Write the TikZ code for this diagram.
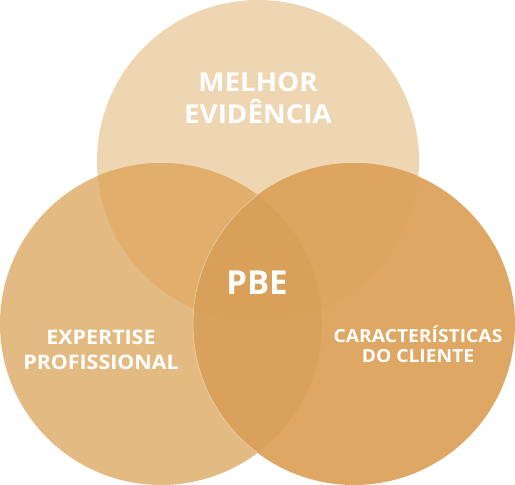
\documentclass[tikz,border=0pt]{standalone}
\usepackage{fontspec}
\setmainfont{Open Sans}
\newfontfamily\widefont{Open Sans}[FakeStretch=1.07]
\definecolor{topc}{HTML}{EFD6B2}
\definecolor{leftc}{HTML}{E4BA83}
\definecolor{rightc}{HTML}{DEA764}
\definecolor{tlc}{HTML}{E2AE6B}
\definecolor{trc}{HTML}{DDA560}
\definecolor{lrc}{HTML}{DAA15C}
\definecolor{allc}{HTML}{D8A058}
\tikzset{
  lbl/.style={text=white, align=center, inner sep=0pt, anchor=base},
}
\begin{document}
\begin{tikzpicture}[x=1pt,y=-1pt]
\useasboundingbox (0,0) rectangle (515,485);
\def\circT{(258,161) circle (161pt)}
\def\circL{(161,324) circle (161pt)}
\def\circR{(354,324) circle (161pt)}
\fill[topc] \circT;
\fill[leftc] \circL;
\fill[rightc] \circR;
\begin{scope}\clip \circT; \fill[tlc] \circL; \end{scope}
\begin{scope}\clip \circT; \fill[trc] \circR; \end{scope}
\begin{scope}\clip \circL; \fill[lrc] \circR; \end{scope}
\begin{scope}\clip \circT; \clip \circL; \fill[allc] \circR; \end{scope}
\begin{scope}\clip \circL; \draw[white, opacity=.55, line width=.5pt] \circR; \end{scope}
\node[lbl, font=\widefont\bfseries\fontsize{26}{32}\selectfont] (mel) at (258,123) {MELHOR\\EVIDÊNCIA};
\node[lbl, font=\bfseries\fontsize{33}{40}\selectfont] (pbe) at (257,294) {PBE};
\node[lbl, font=\widefont\bfseries\fontsize{20}{25}\selectfont] (exp) at (101,369) {EXPERTISE\\PROFISSIONAL};
\node[lbl, font=\widefont\bfseries\fontsize{18}{20}\selectfont] (car) at (418,362) {CARACTERÍSTICAS\\DO CLIENTE};
\end{tikzpicture}
\end{document}
